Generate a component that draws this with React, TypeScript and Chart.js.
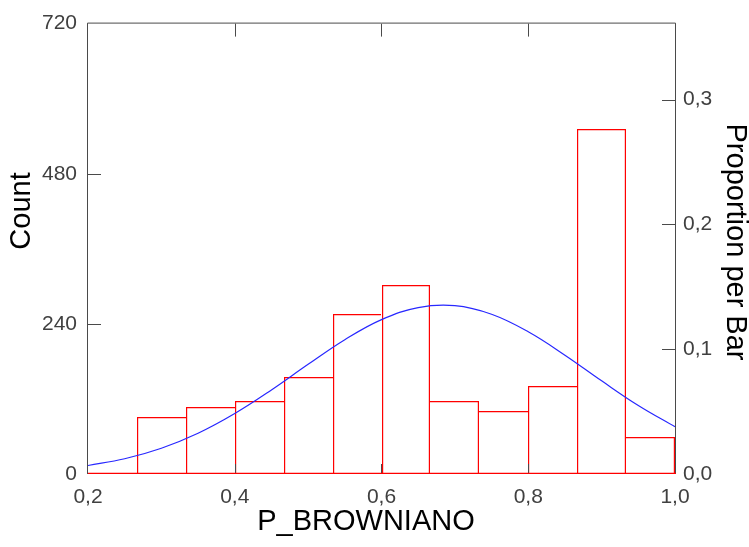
import React, { useEffect, useRef } from "react";
import { Chart, registerables } from "chart.js";

Chart.register(...registerables);

// Histogram bins (centres of 12 equal-width bins from 0.2 to 1.0)
const binCenters = [0.2333, 0.3, 0.3667, 0.4333, 0.5, 0.5667, 0.6333, 0.7, 0.7667, 0.8333, 0.9, 0.9667];
const binCounts = [0, 91, 107, 116, 155, 256, 302, 116, 101, 140, 552, 59];

// Fitted normal curve (in count units)
const curveX = [0.2, 0.25, 0.3, 0.35, 0.4, 0.45, 0.5, 0.55, 0.6, 0.65, 0.7, 0.75, 0.8, 0.85, 0.9, 0.95, 1.0];
const curveY = [13.6, 24.4, 41.2, 65.1, 96.6, 134.3, 175.3, 214.7, 246.8, 266.1, 269.1, 255.4, 227.4, 190.0, 148.9, 109.5, 75.5];

const xTicks = [0.2, 0.4, 0.6, 0.8, 1.0];
const countTicks = [0, 240, 480, 720];
const propTicks = [0.0, 0.1, 0.2, 0.3];

const xTitle = "P_BROWNIANO";
const yTitle = "Count";
const y2Title = "Proportion per Bar";

const FONT = '"Liberation Sans", Arial, sans-serif';
const TICK_COLOR = "#404040";
const FRAME_COLOR = "#4a4a4a";
const BAR_EDGE = 1.2;

const fmt = (v: number) => v.toFixed(1).replace(".", ",");

export default function App() {
  const ref = useRef<HTMLCanvasElement | null>(null);

  useEffect(() => {
    const canvas = ref.current;
    if (!canvas) return;
    const total = binCounts.reduce((a, b) => a + b, 0);
    const countMax = countTicks[countTicks.length - 1];

    // snap bar rectangles to whole pixels so their outlines stay crisp
    const snapPlugin = {
      id: "snapBars",
      afterDatasetsUpdate(chart: any) {
        const meta = chart.getDatasetMeta(1);
        meta.data.forEach((el: any) => {
          const l = Math.round(el.x - el.width / 2);
          const r = Math.round(el.x + el.width / 2);
          el.x = (l + r) / 2;
          el.width = r - l;
          el.y = Math.round(el.y);
          el.base = Math.round(el.base);
        });
      },
    };

    const framePlugin = {
      id: "framePlugin",
      afterDatasetsDraw(chart: any) {
        const { ctx, chartArea } = chart;
        const { left, right, top, bottom } = chartArea;
        const xs = chart.scales.x;
        const ys = chart.scales.y;
        const y2s = chart.scales.y2;
        ctx.save();
        ctx.lineWidth = 1;
        ctx.strokeStyle = FRAME_COLOR;
        ctx.beginPath();
        ctx.moveTo(left - 0.5, bottom);
        ctx.lineTo(left - 0.5, top - 0.5);
        ctx.lineTo(right + 0.5, top - 0.5);
        ctx.lineTo(right + 0.5, bottom);
        ctx.stroke();
        const TL = 13;
        ctx.beginPath();
        xTicks.forEach((v) => {
          const px = Math.round(xs.getPixelForValue(v)) + 0.5;
          if (v > xs.min && v < xs.max) {
            ctx.moveTo(px, top);
            ctx.lineTo(px, top + TL);
            ctx.moveTo(px, bottom);
            ctx.lineTo(px, bottom - 10);
          }
        });
        countTicks.forEach((v) => {
          if (v > 0 && v < countMax) {
            const py = Math.round(ys.getPixelForValue(v)) + 0.5;
            ctx.moveTo(left, py);
            ctx.lineTo(left + TL, py);
          }
        });
        propTicks.forEach((v) => {
          if (v > 0) {
            const py = Math.round(y2s.getPixelForValue(v)) + 0.5;
            ctx.moveTo(right, py);
            ctx.lineTo(right - TL, py);
          }
        });
        ctx.stroke();
        // red base line of the histogram
        ctx.strokeStyle = "rgb(255,0,0)";
        ctx.lineWidth = BAR_EDGE;
        ctx.beginPath();
        ctx.moveTo(left, Math.round(bottom) - BAR_EDGE / 2);
        ctx.lineTo(right + 1, Math.round(bottom) - BAR_EDGE / 2);
        ctx.stroke();
        ctx.restore();
      },
      afterDraw(chart: any) {
        const { ctx } = chart;
        ctx.save();
        ctx.fillStyle = "#000";
        ctx.font = `29px ${FONT}`;
        ctx.textAlign = "center";
        ctx.textBaseline = "middle";
        ctx.fillText(xTitle, 366, 522);
        ctx.translate(22, 211);
        ctx.rotate(-Math.PI / 2);
        ctx.fillText(yTitle, 0, 0);
        ctx.restore();
        ctx.save();
        ctx.fillStyle = "#000";
        ctx.font = `29px ${FONT}`;
        ctx.textAlign = "center";
        ctx.textBaseline = "middle";
        ctx.translate(735, 242);
        ctx.rotate(Math.PI / 2);
        ctx.fillText(y2Title, 0, 0);
        ctx.restore();
      },
    };

    // The taller bar of each neighbouring pair draws the shared edge, so edges stay thin
    const edgeWidths = (i: number) => {
      const h = binCounts[i];
      const prev = i > 0 ? binCounts[i - 1] : 0;
      const next = i < binCounts.length - 1 ? binCounts[i + 1] : 0;
      return {
        top: BAR_EDGE,
        left: h >= prev ? BAR_EDGE : 0,
        right: h > next ? BAR_EDGE : 0,
        bottom: 0,
      };
    };

    const chart = new Chart(canvas, {
      type: "bar",
      data: {
        datasets: [
          {
            type: "line",
            data: curveX.map((x, i) => ({ x, y: curveY[i] })),
            borderColor: "rgb(40,40,255)",
            borderWidth: 1.2,
            pointRadius: 0,
            tension: 0.4,
            fill: false,
            yAxisID: "y",
            order: 0,
          } as any,
          {
            type: "bar",
            data: binCenters.map((x, i) => ({ x, y: binCounts[i] })),
            backgroundColor: "rgba(0,0,0,0)",
            borderColor: "rgb(255,0,0)",
            borderWidth: (c: any) => edgeWidths(c.dataIndex),
            borderSkipped: false,
            inflateAmount: 0,
            barPercentage: 1,
            categoryPercentage: 1,
            yAxisID: "y",
            order: 1,
          } as any,
        ],
      },
      options: {
        animation: false,
        responsive: false,
        devicePixelRatio: 1,
        layout: { padding: { top: 19, left: 0, right: 0, bottom: 0 } },
        plugins: {
          legend: { display: false },
          tooltip: { enabled: false },
          title: { display: false },
        },
        scales: {
          x: {
            type: "linear",
            min: 0.2,
            max: 1.0,
            offset: false,
            grid: { display: false, drawTicks: false },
            border: { display: false },
            afterBuildTicks: (s: any) => {
              s.ticks = xTicks.map((v) => ({ value: v }));
            },
            afterFit: (s: any) => {
              s.height = 73;
            },
            ticks: {
              callback: (v: any) => fmt(Number(v)),
              color: TICK_COLOR,
              font: { family: FONT, size: 21 },
              padding: 11,
              maxRotation: 0,
              autoSkip: false,
            },
          },
          y: {
            type: "linear",
            position: "left",
            min: 0,
            max: countMax,
            grid: { display: false, drawTicks: false },
            border: { display: false },
            afterBuildTicks: (s: any) => {
              s.ticks = countTicks.map((v) => ({ value: v }));
            },
            afterFit: (s: any) => {
              s.width = 88;
            },
            ticks: {
              color: TICK_COLOR,
              font: { family: FONT, size: 21 },
              padding: 11,
              autoSkip: false,
            },
          },
          y2: {
            type: "linear",
            position: "right",
            min: 0,
            max: countMax / total,
            grid: { display: false, drawTicks: false },
            border: { display: false },
            afterBuildTicks: (s: any) => {
              s.ticks = propTicks.map((v) => ({ value: v }));
            },
            afterFit: (s: any) => {
              s.width = 74;
            },
            ticks: {
              callback: (v: any) => fmt(Number(v)),
              color: TICK_COLOR,
              font: { family: FONT, size: 21 },
              padding: 8,
              autoSkip: false,
            },
          },
        },
      } as any,
      plugins: [snapPlugin, framePlugin],
    });
    return () => chart.destroy();
  }, []);

  return (
    <div style={{ position: "fixed", left: 0, top: 0, width: 749, height: 547, background: "#fff" }}>
      <canvas ref={ref} width={749} height={547} style={{ display: "block" }} />
    </div>
  );
}
